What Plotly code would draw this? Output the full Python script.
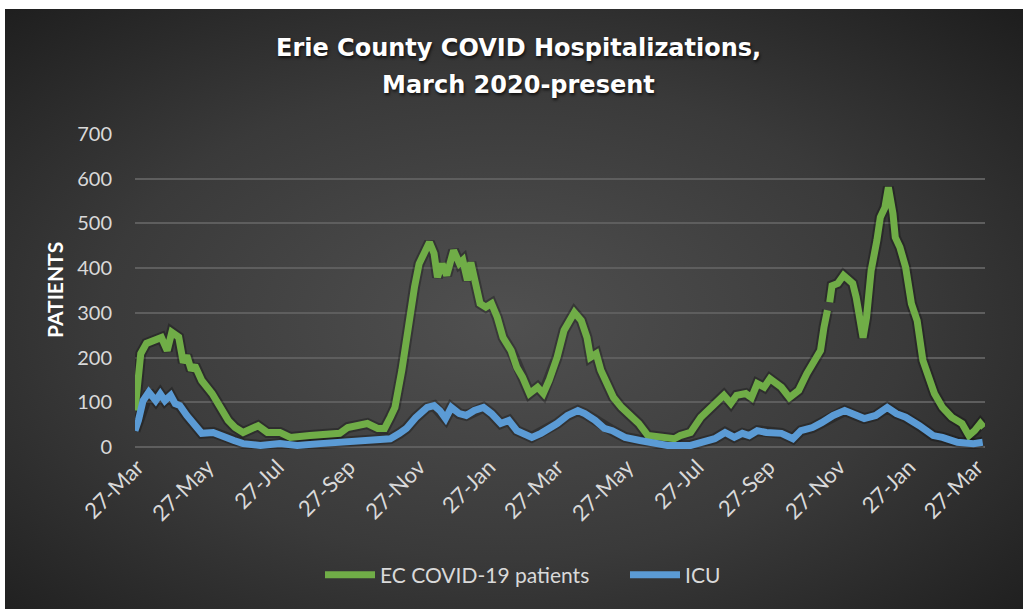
import base64
import plotly.graph_objects as go

# ---------------- data ----------------
green_dates = [
    "2020-03-25", "2020-03-30", "2020-04-04", "2020-04-13", "2020-04-17", "2020-04-22", "2020-04-26", "2020-05-02", "2020-05-06", "2020-05-09",
    "2020-05-13", "2020-05-16", "2020-05-22", "2020-05-31", "2020-06-07", "2020-06-14", "2020-06-20", "2020-06-27", "2020-07-10", "2020-07-18",
    "2020-07-29", "2020-08-07", "2020-08-24", "2020-09-08", "2020-09-19", "2020-09-26", "2020-10-07", "2020-10-13", "2020-10-22", "2020-10-28",
    "2020-11-02", "2020-11-06", "2020-11-12", "2020-11-17", "2020-11-23", "2020-11-27", "2020-12-06", "2020-12-10", "2020-12-13", "2020-12-17",
    "2020-12-21", "2020-12-27", "2021-01-01", "2021-01-04", "2021-01-08", "2021-01-11", "2021-01-14", "2021-01-19", "2021-01-24", "2021-01-29",
    "2021-02-03", "2021-02-08", "2021-02-15", "2021-02-20", "2021-02-25", "2021-03-03", "2021-03-10", "2021-03-15", "2021-03-20", "2021-03-27",
    "2021-04-02", "2021-04-07", "2021-04-11", "2021-04-17", "2021-04-22", "2021-04-25", "2021-04-30", "2021-05-04", "2021-05-10", "2021-05-15",
    "2021-05-22", "2021-05-29", "2021-06-06", "2021-06-14", "2021-06-24", "2021-07-07", "2021-07-12", "2021-07-21", "2021-07-30", "2021-08-08",
    "2021-08-19", "2021-08-25", "2021-08-30", "2021-09-07", "2021-09-12", "2021-09-17", "2021-09-23", "2021-09-28", "2021-10-04", "2021-10-08",
    "2021-10-15", "2021-10-23", "2021-10-30", "2021-11-06", "2021-11-11", "2021-11-14", "2021-11-17", "2021-11-18", "2021-11-19", "2021-11-21",
    "2021-11-26", "2021-12-01", "2021-12-06", "2021-12-09", "2021-12-12", "2021-12-15", "2021-12-18", "2021-12-21", "2021-12-25", "2021-12-30",
    "2022-01-02", "2022-01-06", "2022-01-09", "2022-01-13", "2022-01-15", "2022-01-19", "2022-01-24", "2022-01-29", "2022-02-03", "2022-02-08",
    "2022-02-13", "2022-02-18", "2022-02-25", "2022-03-05", "2022-03-14", "2022-03-20", "2022-03-25", "2022-03-30", "2022-04-02",
]
ec_patients = [
    82, 209, 232, 239, 245, 216, 257, 246, 189, 205,
    172, 183, 149, 120, 89, 60, 44, 33, 48, 33,
    33, 22, 26, 31, 31, 44, 48, 53, 42, 42,
    67, 89, 172, 268, 358, 410, 458, 433, 380, 410,
    384, 440, 411, 418, 373, 413, 380, 321, 313, 321,
    290, 245, 216, 178, 156, 120, 134, 120, 149, 201,
    261, 283, 301, 283, 245, 201, 209, 172, 134, 111,
    89, 74, 53, 26, 22, 19, 26, 33, 67, 89,
    116, 98, 116, 120, 111, 142, 134, 153, 142, 134,
    111, 127, 164, 194, 216, 268, 306, None, 324, 361,
    366, 384, 373, 366, 335, 283, 245, 290, 395, 462,
    514, 536, 581, 522, 469, 447, 402, 321, 283, 194,
    156, 120, 89, 67, 53, 26, 37, 53, 44,
]

icu_dates = [
    "2020-03-25", "2020-03-28", "2020-04-01", "2020-04-06", "2020-04-12", "2020-04-16", "2020-04-20", "2020-04-25", "2020-04-29", "2020-05-03",
    "2020-05-09", "2020-05-15", "2020-05-22", "2020-06-01", "2020-06-10", "2020-06-19", "2020-06-27", "2020-07-12", "2020-07-29", "2020-08-13",
    "2020-09-02", "2020-09-19", "2020-10-04", "2020-10-18", "2020-11-02", "2020-11-10", "2020-11-16", "2020-11-24", "2020-12-04", "2020-12-10",
    "2020-12-15", "2020-12-20", "2020-12-25", "2021-01-01", "2021-01-07", "2021-01-14", "2021-01-22", "2021-01-29", "2021-02-06", "2021-02-13",
    "2021-02-20", "2021-03-05", "2021-03-13", "2021-03-27", "2021-04-05", "2021-04-14", "2021-04-20", "2021-04-29", "2021-05-07", "2021-05-14",
    "2021-05-25", "2021-06-07", "2021-06-21", "2021-07-01", "2021-07-21", "2021-07-30", "2021-08-11", "2021-08-20", "2021-08-28", "2021-09-04",
    "2021-09-10", "2021-09-17", "2021-09-25", "2021-10-08", "2021-10-18", "2021-10-25", "2021-11-04", "2021-11-12", "2021-11-22", "2021-12-02",
    "2021-12-12", "2021-12-19", "2021-12-29", "2022-01-08", "2022-01-16", "2022-01-24", "2022-02-05", "2022-02-17", "2022-02-25", "2022-03-10",
    "2022-03-24", "2022-04-01",
]
icu = [
    37, 60, 104, 123, 104, 119, 104, 116, 97, 93,
    71, 53, 31, 33, 22, 15, 8, 4, 8, 4,
    8, 11, 15, 17, 19, 31, 42, 66, 89, 93,
    82, 64, 89, 75, 71, 82, 89, 75, 53, 60,
    37, 22, 31, 53, 71, 82, 75, 60, 42, 37,
    22, 15, 8, 4, 4, 11, 19, 33, 22, 31,
    26, 37, 33, 31, 19, 37, 44, 55, 71, 82,
    71, 64, 71, 89, 75, 67, 48, 26, 22, 11,
    8, 11,
]

x_ticks = ["2020-03-27", "2020-05-27", "2020-07-27", "2020-09-27", "2020-11-27", "2021-01-27", "2021-03-27",
           "2021-05-27", "2021-07-27", "2021-09-27", "2021-11-27", "2022-01-27", "2022-03-27"]
y_ticks = [0, 100, 200, 300, 400, 500, 600, 700]

# ---------------- styling ----------------
W, H = 1023, 609
ML, MR, MT, MB = 135, 38, 134, 160
PW, PH = W - ML - MR, H - MT - MB
FONT = "Lato"
TITLE_FONT = "DejaVu Sans"
GREEN = "#70AD47"
BLUE = "#5B9BD5"
TXT = "#D9D9D9"


def px_to_paper_x(px):
    return (px - ML) / PW


def px_to_paper_y(py):
    return (MT + PH - py) / PH


svg = (
    "<svg xmlns='http://www.w3.org/2000/svg' width='1018' height='600' viewBox='0 0 1018 600' preserveAspectRatio='none'>"
    "<defs><radialGradient id='g' cx='0.49' cy='0.52' r='0.72'>"
    "<stop offset='0' stop-color='#505050'/><stop offset='0.55' stop-color='#3a3a3a'/><stop offset='1' stop-color='#1e1e1e'/>"
    "</radialGradient></defs><rect width='1018' height='600' fill='url(#g)'/></svg>"
)
bg_uri = "data:image/svg+xml;base64," + base64.b64encode(svg.encode()).decode()

fig = go.Figure()

# soft dark halo under each line (shadow effect)
fig.add_trace(go.Scatter(x=green_dates, y=ec_patients, mode="lines",
                         line=dict(color="rgba(0,0,0,0.28)", width=11), showlegend=False, hoverinfo="skip"))
fig.add_trace(go.Scatter(x=icu_dates, y=icu, mode="lines",
                         line=dict(color="rgba(0,0,0,0.28)", width=11), showlegend=False, hoverinfo="skip"))

fig.add_trace(go.Scatter(x=green_dates, y=ec_patients, mode="lines", name="EC COVID-19 patients",
                         line=dict(color=GREEN, width=7)))
fig.add_trace(go.Scatter(x=icu_dates, y=icu, mode="lines", name="ICU",
                         line=dict(color=BLUE, width=7)))

fig.update_layout(
    width=W, height=H,
    margin=dict(l=ML, r=MR, t=MT, b=MB, pad=0),
    paper_bgcolor="white",
    plot_bgcolor="rgba(0,0,0,0)",
    font=dict(family=FONT, color=TXT),
    showlegend=True,
    legend=dict(orientation="h", x=px_to_paper_x(320), xanchor="left",
                y=px_to_paper_y(575), yanchor="middle",
                font=dict(family=FONT, size=21, color=TXT), bgcolor="rgba(0,0,0,0)",
                itemwidth=50, entrywidth=240, entrywidthmode="pixels"),
    xaxis=dict(type="date", range=["2020-03-25", "2022-04-03"], tickvals=x_ticks,
               tickformat="%-d-%b", tickangle=-45, tickfont=dict(size=22, color=TXT),
               showgrid=False, zeroline=False, showline=False, ticks=""),
    yaxis=dict(range=[-4, 700], tickvals=y_ticks, tickfont=dict(size=20, color=TXT),
               showgrid=True, gridcolor="#5E5E5E", gridwidth=1.5, zeroline=False,
               showline=False, ticks="", ticklabelstandoff=22),
    images=[dict(source=bg_uri, xref="paper", yref="paper",
                 x=px_to_paper_x(5), y=px_to_paper_y(9),
                 sizex=1018 / PW, sizey=600 / PH,
                 xanchor="left", yanchor="top", sizing="stretch", layer="below")],
    annotations=[
        dict(text="<b>Erie County COVID Hospitalizations,</b>", x=px_to_paper_x(518), y=px_to_paper_y(48),
             xref="paper", yref="paper", showarrow=False, xanchor="center", yanchor="middle",
             font=dict(family=TITLE_FONT, size=24, color="white", shadow="1px 2px 3px rgba(0,0,0,0.7)")),
        dict(text="<b>March 2020-present</b>", x=px_to_paper_x(518), y=px_to_paper_y(85),
             xref="paper", yref="paper", showarrow=False, xanchor="center", yanchor="middle",
             font=dict(family=TITLE_FONT, size=24, color="white", shadow="1px 2px 3px rgba(0,0,0,0.7)")),
        dict(text="<b>PATIENTS</b>", x=px_to_paper_x(54), y=px_to_paper_y(290), textangle=-90,
             xref="paper", yref="paper", showarrow=False, xanchor="center", yanchor="middle",
             font=dict(family=FONT, size=21, color="white")),
    ],
)

fig.write_html("out.html", post_script="document.body.style.margin='0';",
               config={"displayModeBar": False})
